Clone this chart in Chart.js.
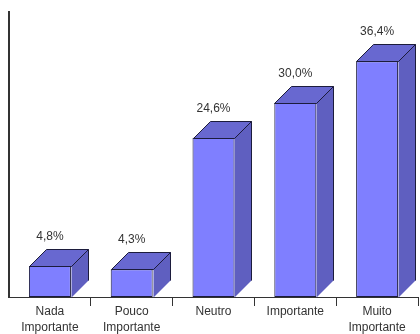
<!DOCTYPE html>
<html>
<head>
<meta charset="utf-8">
<script src="https://cdn.jsdelivr.net/npm/chart.js@4"></script>
<style>
  html, body { margin: 0; padding: 0; background: #fff; }
  #wrap { width: 420px; height: 334px; }
</style>
</head>
<body>
<div id="wrap"><canvas id="barChart"></canvas></div>
<script>
// categorias e percentuais
const categorias = [['Nada', 'Importante'], ['Pouco', 'Importante'], 'Neutro', 'Importante', ['Muito', 'Importante']];
const percentuais = [4.8, 4.3, 24.6, 30.0, 36.4];
const eixoMax = 44;

// profundidade do efeito 3D (px)
const PROF = 17;
const corFrente = '#7f7fff';
const corTopo = '#6868d0';
const corLado = '#5f5fc0';
const corBorda = '#1c1c3c';

const fmt = v => v.toFixed(1).replace('.', ',') + '%';

// desenha topo, lateral e o rótulo de cada barra
const barras3d = {
    id: 'barras3d',
    afterDatasetsDraw(chart) {
        const ctx = chart.ctx;
        const meta = chart.getDatasetMeta(0);
        ctx.save();
        ctx.lineWidth = 1;
        ctx.strokeStyle = corBorda;
        meta.data.forEach((bar, i) => {
            const p = bar.getProps(['x', 'y', 'base', 'width'], true);
            const l = Math.round(p.x - p.width / 2) + 0.5;
            const r = Math.round(p.x + p.width / 2) + 0.5;
            const t = Math.round(p.y) + 0.5;
            const b = Math.round(p.base) + 0.5;

            // lateral
            ctx.beginPath();
            ctx.moveTo(r, b);
            ctx.lineTo(r, t);
            ctx.lineTo(r + PROF, t - PROF);
            ctx.lineTo(r + PROF, b - PROF);
            ctx.closePath();
            ctx.fillStyle = corLado;
            ctx.fill();
            ctx.beginPath();
            ctx.moveTo(r, t);
            ctx.lineTo(r + PROF, t - PROF);
            ctx.lineTo(r + PROF, b - PROF);
            ctx.stroke();

            // topo
            ctx.beginPath();
            ctx.moveTo(l, t);
            ctx.lineTo(l + PROF, t - PROF);
            ctx.lineTo(r + PROF, t - PROF);
            ctx.lineTo(r, t);
            ctx.closePath();
            ctx.fillStyle = corTopo;
            ctx.fill();
            ctx.stroke();

            // rótulo
            ctx.fillStyle = '#333';
            ctx.font = '12px "Liberation Sans", Arial, sans-serif';
            ctx.textAlign = 'center';
            ctx.textBaseline = 'middle';
            ctx.fillText(fmt(percentuais[i]), p.x, t - PROF - 13);
        });
        ctx.restore();
    }
};

new Chart(document.getElementById('barChart'), {
    type: 'bar',
    data: {
        labels: categorias,
        datasets: [{
            data: percentuais,
            backgroundColor: corFrente,
            borderColor: corBorda,
            borderWidth: 1,
            borderSkipped: false,
            barPercentage: 0.513,
            categoryPercentage: 1
        }]
    },
    options: {
        responsive: true,
        maintainAspectRatio: false,
        animation: false,
        layout: { padding: { left: 9, right: 2, top: 12, bottom: 0 } },
        plugins: { legend: { display: false }, tooltip: { enabled: false } },
        scales: {
            x: {
                offset: true,
                grid: {
                    display: true,
                    drawOnChartArea: false,
                    drawTicks: true,
                    tickLength: 9,
                    color: c => (c.type === 'tick' && c.index === 0) ? 'rgba(0,0,0,0)' : '#333'
                },
                border: { display: true, color: '#333', width: 1 },
                ticks: {
                    color: '#333',
                    padding: -2,
                    maxRotation: 0,
                    autoSkip: false,
                    font: { family: '"Liberation Sans", Arial, sans-serif', size: 12, lineHeight: 1.333 }
                }
            },
            y: {
                min: 0,
                max: eixoMax,
                ticks: { display: false },
                grid: { display: false, drawTicks: false },
                border: { display: true, color: '#333', width: 2 }
            }
        }
    },
    plugins: [barras3d]
});
</script>
</body>
</html>
